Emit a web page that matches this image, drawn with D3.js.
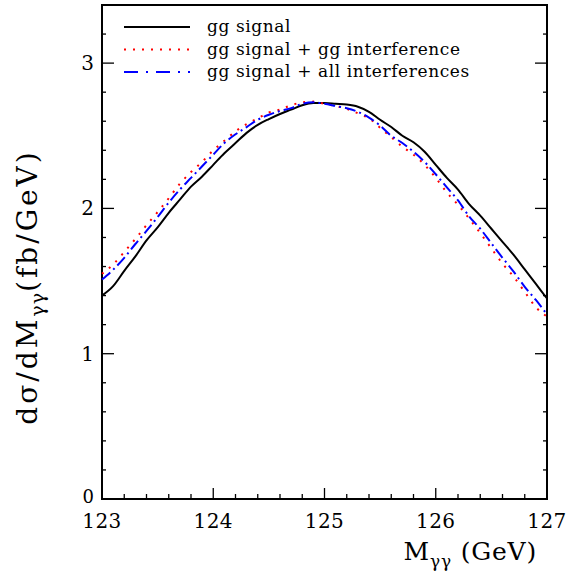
<!DOCTYPE html>
<html>
<head>
<meta charset="utf-8">
<script src="https://cdn.jsdelivr.net/npm/d3@7"></script>
<style>
  body { margin: 0; background: #fff; }
  text { font-family: "DejaVu Serif", "Liberation Serif", serif; }
</style>
</head>
<body>
<script>
// mass points (GeV)
const masses = [123.0, 123.1, 123.2, 123.3, 123.4, 123.5, 123.6, 123.7, 123.8, 123.9,
  124.0, 124.1, 124.2, 124.3, 124.4, 124.5, 124.6, 124.7, 124.8, 124.9,
  125.0, 125.1, 125.2, 125.3, 125.4, 125.5, 125.6, 125.7, 125.8, 125.9,
  126.0, 126.1, 126.2, 126.3, 126.4, 126.5, 126.6, 126.7, 126.8, 126.9, 127.0];

// gg signal
const ggSignal = [1.40, 1.465, 1.57, 1.67, 1.78, 1.87, 1.97, 2.06, 2.15, 2.22,
  2.30, 2.38, 2.45, 2.52, 2.575, 2.615, 2.65, 2.68, 2.71, 2.725,
  2.725, 2.72, 2.715, 2.70, 2.665, 2.61, 2.56, 2.50, 2.455, 2.39,
  2.30, 2.21, 2.13, 2.03, 1.95, 1.86, 1.77, 1.68, 1.58, 1.48, 1.38];

// gg signal + gg interference
const ggInterf = [1.55, 1.615, 1.70, 1.79, 1.885, 1.975, 2.07, 2.17, 2.25, 2.32,
  2.40, 2.465, 2.53, 2.58, 2.62, 2.66, 2.68, 2.71, 2.73, 2.735,
  2.72, 2.705, 2.685, 2.655, 2.62, 2.555, 2.49, 2.425, 2.37, 2.30,
  2.21, 2.11, 2.025, 1.93, 1.83, 1.725, 1.62, 1.53, 1.425, 1.32, 1.255];

// gg signal + all interferences
const allInterf = [1.51, 1.578, 1.66, 1.755, 1.845, 1.94, 2.04, 2.13, 2.21, 2.29,
  2.37, 2.45, 2.51, 2.56, 2.61, 2.645, 2.67, 2.69, 2.72, 2.73,
  2.72, 2.705, 2.69, 2.665, 2.625, 2.57, 2.50, 2.45, 2.39, 2.32,
  2.235, 2.145, 2.055, 1.945, 1.86, 1.76, 1.66, 1.565, 1.46, 1.37, 1.27];

const xTicks = [123, 124, 125, 126, 127];
const yTicks = [0, 1, 2, 3];
const legendLabels = ["gg signal", "gg signal + gg interference", "gg signal + all interferences"];

const W = 568, H = 573;
const svg = d3.select("body").append("svg")
  .attr("width", W).attr("height", H);

const x = d3.scaleLinear().domain([123, 127]).range([102, 547]);
const y = d3.scaleLinear().domain([0, 3.4]).range([499, 5]);

// frame
svg.append("rect")
  .attr("x", x(123)).attr("y", y(3.4))
  .attr("width", x(127) - x(123)).attr("height", y(0) - y(3.4))
  .attr("fill", "none").attr("stroke", "#000").attr("stroke-width", 2);

// ticks pointing inward
const xMinor = d3.range(123, 127.001, 0.2);
const yMinor = d3.range(0, 3.401, 0.2);
const isMajor = v => Math.abs(v - Math.round(v)) < 1e-6;

svg.append("g").selectAll("line")
  .data(xMinor).join("line")
  .attr("x1", d => x(d)).attr("x2", d => x(d))
  .attr("y1", y(0)).attr("y2", d => y(0) - (isMajor(d) ? 11 : 5))
  .attr("stroke", "#000").attr("stroke-width", 1.3);

[x(123), x(127)].forEach((ax, i) => {
  svg.append("g").selectAll("line")
    .data(yMinor).join("line")
    .attr("y1", d => y(d)).attr("y2", d => y(d))
    .attr("x1", ax)
    .attr("x2", d => ax + (i === 0 ? 1 : -1) * (isMajor(d) ? 12 : 4))
    .attr("stroke", "#000").attr("stroke-width", 1.3);
});

// tick labels
svg.append("g").selectAll("text")
  .data(xTicks).join("text")
  .attr("x", d => x(d)).attr("y", 528)
  .attr("text-anchor", "middle")
  .attr("font-size", 20)
  .attr("letter-spacing", 0.5)
  .text(d => d);

svg.append("g").selectAll("text")
  .data(yTicks).join("text")
  .attr("x", 94).attr("y", d => y(d) + (d === 0 ? 4 : 7))
  .attr("text-anchor", "end")
  .attr("font-size", d => d === 0 ? 18 : 20)
  .text(d => d);

// axis titles
const xt = svg.append("text")
  .attr("x", 537).attr("y", 560)
  .attr("text-anchor", "end")
  .attr("font-size", 25)
  .attr("letter-spacing", 0.8);
xt.append("tspan").text("M");
xt.append("tspan").attr("dy", 7).attr("font-size", 17).text("γγ");
xt.append("tspan").attr("dy", -7).text("  (GeV)");

const yt = svg.append("text")
  .attr("transform", "translate(37,287) rotate(-90)")
  .attr("text-anchor", "middle")
  .attr("font-size", 28)
  .attr("letter-spacing", 3);
yt.append("tspan").text("dσ/dM");
yt.append("tspan").attr("dy", 7).attr("font-size", 19).attr("letter-spacing", 1).text("γγ");
yt.append("tspan").attr("dy", -7).text("(fb/GeV)");

// curves
const series = [
  { values: ggSignal, color: "#000", dash: null, width: 2 },
  { values: ggInterf, color: "#ff0000", dash: "2,7", width: 2 },
  { values: allInterf, color: "#0000ff", dash: "11,4,2,4", width: 2 }
];

const line = d3.line()
  .x((d, i) => x(masses[i]))
  .y(d => y(d))
  .curve(d3.curveMonotoneX);

svg.append("g").selectAll("path")
  .data(series).join("path")
  .attr("d", d => line(d.values))
  .attr("fill", "none")
  .attr("stroke", d => d.color)
  .attr("stroke-width", d => d.width)
  .attr("stroke-dasharray", d => d.dash);

// legend
const lg = svg.append("g").selectAll("g")
  .data(series).join("g")
  .attr("transform", (d, i) => `translate(0,${27 + i * 22.5})`);
lg.append("line")
  .attr("x1", 124).attr("x2", 190)
  .attr("stroke", d => d.color)
  .attr("stroke-width", d => d.width)
  .attr("stroke-dasharray", d => d.dash === "11,4,2,4" ? "14,8,2,8" : d.dash);
lg.append("text")
  .attr("x", 207).attr("y", 5)
  .attr("font-size", 17)
  .attr("letter-spacing", 0.6)
  .text((d, i) => legendLabels[i]);
</script>
</body>
</html>
